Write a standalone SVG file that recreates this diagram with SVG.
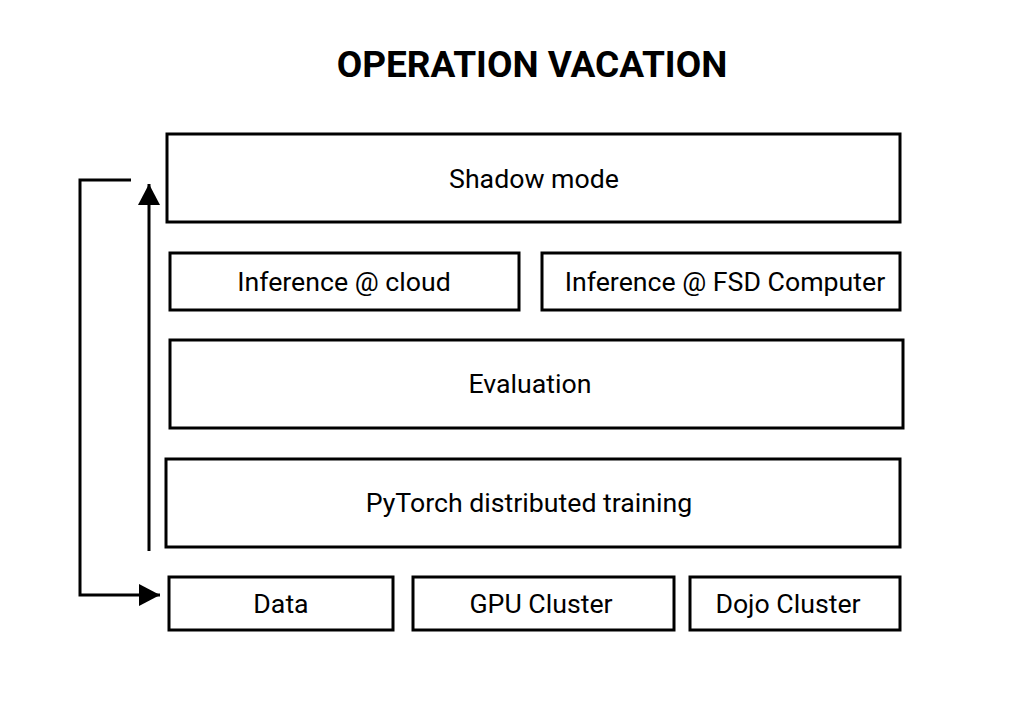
<svg xmlns="http://www.w3.org/2000/svg" width="1024" height="709" viewBox="0 0 1024 709">
<style>
.box{fill:#fff;stroke:#000;stroke-width:3}
.lbl{font-family:Roboto,"Liberation Sans",sans-serif;font-size:26.7px;fill:#000;text-anchor:middle;dominant-baseline:central}
.ttl{font-family:Roboto,"Liberation Sans",sans-serif;font-size:37px;font-weight:bold;fill:#000;text-anchor:middle}
.ln{fill:none;stroke:#000;stroke-width:3}
</style>
<defs>
<marker id="ah" markerUnits="userSpaceOnUse" markerWidth="24" markerHeight="24" refX="21" refY="11" orient="auto">
<path d="M0,0 L21,11 L0,22 Z" fill="#000"/>
</marker>
</defs>
<rect width="1024" height="709" fill="#fff"/>
<text class="ttl" x="532" y="77">OPERATION VACATION</text>
<g id="shadow"><rect class="box" x="167" y="134" width="733" height="88"/><text class="lbl" x="534" y="179">Shadow mode</text></g>
<g id="inf-cloud"><rect class="box" x="170" y="253" width="349" height="57"/><text class="lbl" x="344" y="282">Inference @ cloud</text></g>
<g id="inf-fsd"><rect class="box" x="542" y="253" width="358" height="57"/><text class="lbl" x="725" y="282">Inference @ FSD Computer</text></g>
<g id="evaluation"><rect class="box" x="170" y="340" width="733" height="88"/><text class="lbl" x="530" y="384">Evaluation</text></g>
<g id="pytorch"><rect class="box" x="166" y="459" width="734" height="88"/><text class="lbl" x="529" y="503">PyTorch distributed training</text></g>
<g id="data"><rect class="box" x="169" y="577" width="224" height="53"/><text class="lbl" x="281" y="604">Data</text></g>
<g id="gpu"><rect class="box" x="413" y="577" width="261" height="53"/><text class="lbl" x="541" y="604">GPU Cluster</text></g>
<g id="dojo"><rect class="box" x="690" y="577" width="210" height="53"/><text class="lbl" x="788" y="604">Dojo Cluster</text></g>
<g id="connectors">
<line class="ln" x1="149" y1="551" x2="149" y2="184" marker-end="url(#ah)"/>
<polyline class="ln" points="131,180 80,180 80,595 160,595" marker-end="url(#ah)"/>
</g>
</svg>
